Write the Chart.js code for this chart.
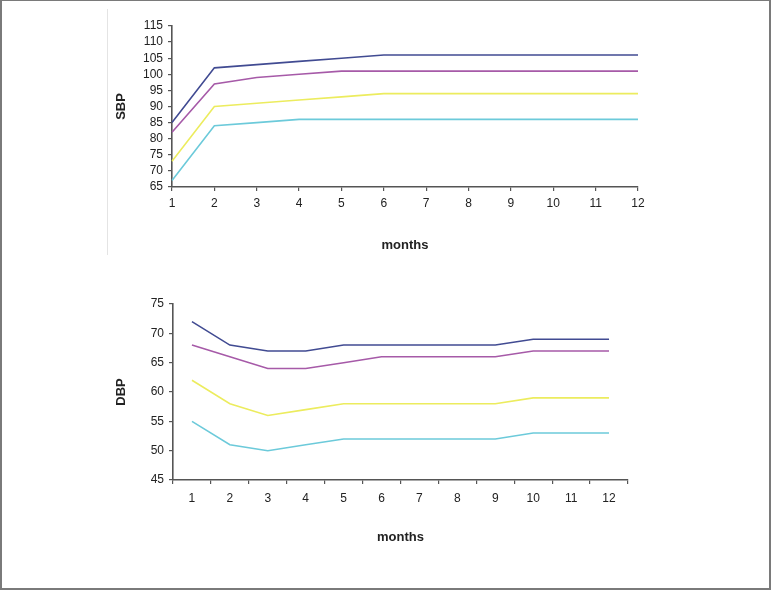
<!DOCTYPE html>
<html>
<head>
<meta charset="utf-8">
<script src="https://cdn.jsdelivr.net/npm/chart.js@4/dist/chart.umd.min.js"></script>
<style>
  html, body { margin: 0; padding: 0; background: #fff; }
  #frame {
    position: relative; width: 771px; height: 590px; box-sizing: border-box;
    border: 2px solid #7a7a7a; border-top-width: 1px; border-right-width: 2px;
    overflow: hidden; background: #fff;
  }
  #sep { position: absolute; left: 105px; top: 8px; width: 1px; height: 246px; background: #e4e4e4; }
  .box { position: absolute; left: -1px; width: 771px; }
</style>
</head>
<body>
<div id="frame">
  <div id="sep"></div>
  <div class="box" style="top:-1px;height:260px"><canvas id="sbp"></canvas></div>
  <div class="box" style="top:279px;height:300px"><canvas id="dbp"></canvas></div>
</div>
<script>
const months = ["1", "2", "3", "4", "5", "6", "7", "8", "9", "10", "11", "12"];

// SBP series
const sbpBlue    = [85, 102, 103, 104, 105, 106, 106, 106, 106, 106, 106, 106];
const sbpMagenta = [82, 97, 99, 100, 101, 101, 101, 101, 101, 101, 101, 101];
const sbpYellow  = [73, 90, 91, 92, 93, 94, 94, 94, 94, 94, 94, 94];
const sbpCyan    = [67, 84, 85, 86, 86, 86, 86, 86, 86, 86, 86, 86];

// DBP series
const dbpBlue    = [72, 68, 67, 67, 68, 68, 68, 68, 68, 69, 69, 69];
const dbpMagenta = [68, 66, 64, 64, 65, 66, 66, 66, 66, 67, 67, 67];
const dbpYellow  = [62, 58, 56, 57, 58, 58, 58, 58, 58, 59, 59, 59];
const dbpCyan    = [55, 51, 50, 51, 52, 52, 52, 52, 52, 53, 53, 53];

const colors = ["#414b92", "#a65aa8", "#ecec5e", "#6ccada"];
const axisColor = "#555555";
const tickFont = { family: "'Liberation Sans', Arial, sans-serif", size: 12 };
const titleFont = { family: "'Liberation Sans', Arial, sans-serif", size: 13, weight: "bold" };

function makeDatasets(series) {
  return series.map((values, i) => ({
    data: values,
    borderColor: colors[i],
    borderWidth: 1.6,
    pointRadius: 0,
    tension: 0,
    fill: false,
  }));
}

function makeChart(id, series, opts) {
  return new Chart(document.getElementById(id), {
    type: "line",
    data: { labels: months, datasets: makeDatasets(series) },
    options: {
      responsive: true,
      maintainAspectRatio: false,
      animation: false,
      events: [],
      layout: { padding: opts.padding },
      plugins: { legend: { display: false }, tooltip: { enabled: false } },
      scales: {
        x: {
          offset: opts.offset,
          grid: { display: true, drawOnChartArea: false, tickLength: 4, color: axisColor, lineWidth: 1.2, offset: opts.offset },
          border: { display: true, color: axisColor, width: 1.6 },
          ticks: { color: "#222", font: tickFont, padding: opts.xPad, maxRotation: 0, autoSkip: false },
          title: { display: true, text: "months", color: "#222", font: titleFont, padding: 0 },
          afterFit: (s) => { s.height = opts.xHeight; },
        },
        y: {
          min: opts.yMin,
          max: opts.yMax,
          ticks: { stepSize: 5, autoSkip: false, color: "#222", font: tickFont, padding: 5 },
          grid: { display: true, drawOnChartArea: false, tickLength: 4, color: axisColor, lineWidth: 1.2 },
          border: { display: true, color: axisColor, width: 1.6 },
          title: { display: true, text: opts.yTitle, color: "#222", font: titleFont, padding: 0 },
          afterFit: (s) => { s.width = opts.yWidth; },
        },
      },
    },
  });
}

makeChart("sbp", [sbpBlue, sbpMagenta, sbpYellow, sbpCyan], {
  padding: { left: 113, top: 26, right: 134, bottom: 7 },
  offset: false, xPad: 5, xHeight: 66, yWidth: 58,
  yMin: 65, yMax: 115, yTitle: "SBP",
});

makeChart("dbp", [dbpBlue, dbpMagenta, dbpYellow, dbpCyan], {
  padding: { left: 113, top: 24, right: 144, bottom: 35 },
  offset: true, xPad: 7, xHeight: 65, yWidth: 59,
  yMin: 45, yMax: 75, yTitle: "DBP",
});
</script>
</body>
</html>
